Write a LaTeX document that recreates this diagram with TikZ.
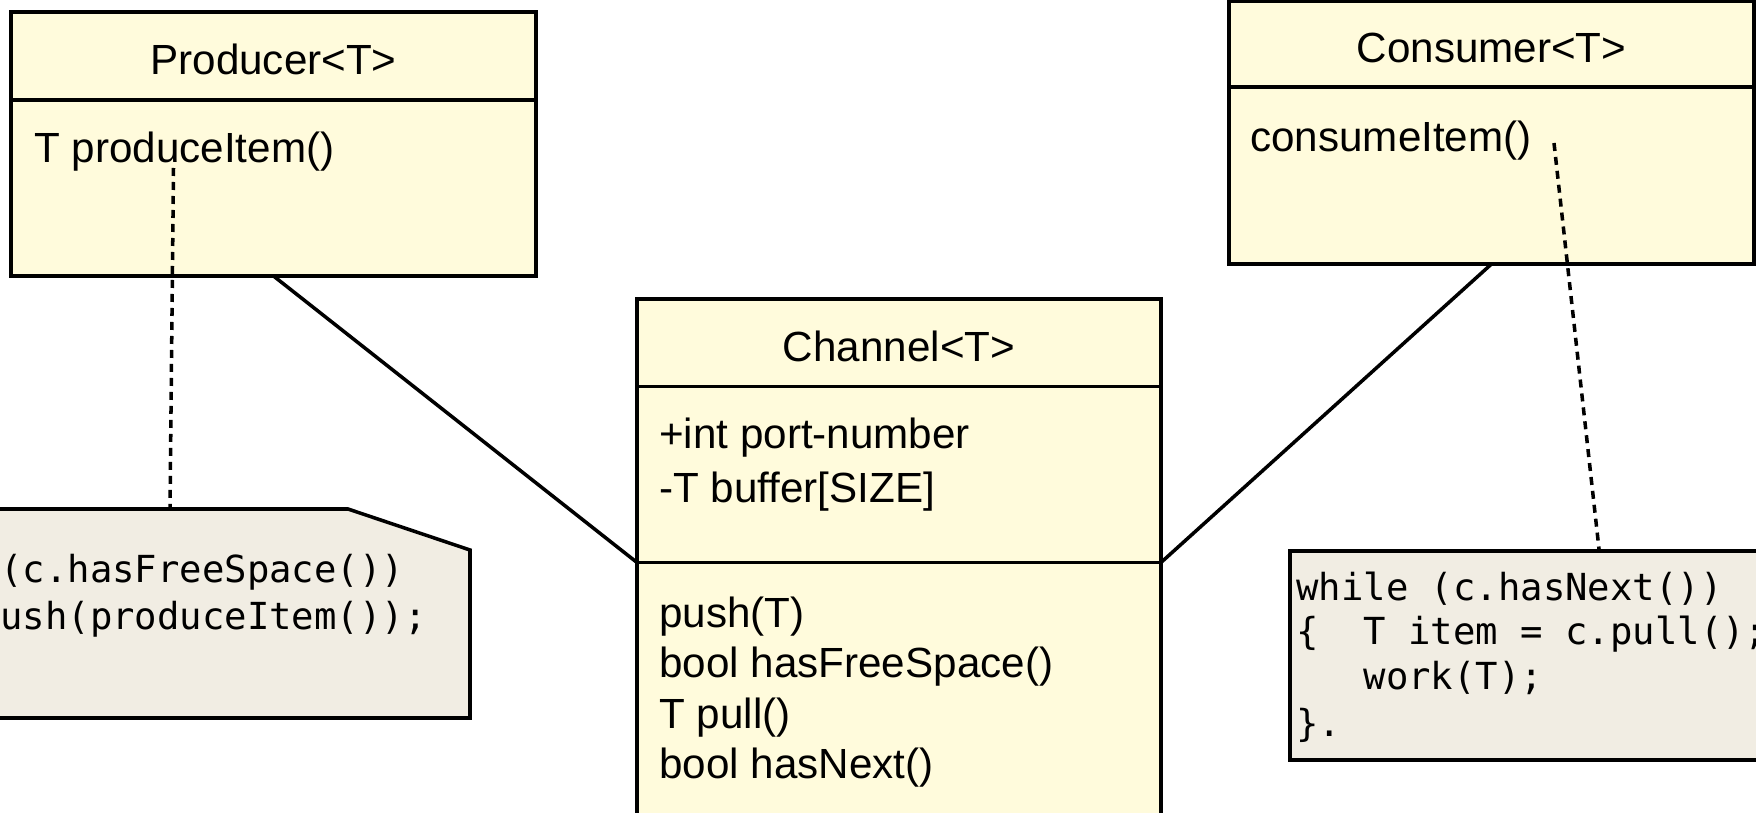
\documentclass[tikz,border=0pt]{standalone}
\usepackage{fontspec}
\setmainfont{Liberation Sans}
\newfontfamily\codefont{DejaVu Sans Mono}
\usetikzlibrary{positioning}
\definecolor{classyellow}{RGB}{255,251,220}
\definecolor{notegray}{RGB}{241,237,227}

\begin{document}
\begin{tikzpicture}%
            [classbox/.style = {draw, fill=classyellow, line width=2pt, inner sep=0pt, outer sep=0pt},
             classhead/.style = {classbox, text height=0.76cm, text depth=0pt, font=\fontsize{24}{29}\selectfont},
             member/.style = {anchor=base west, inner sep=0pt, font=\fontsize{24}{29}\selectfont},
             codeline/.style = {anchor=base west, inner sep=0pt, font=\codefont\fontsize{21.2}{25}\selectfont},
             codenote/.style = {draw, fill=notegray, line width=2pt},
             assoc/.style = {line width=2pt},
             noteline/.style = {line width=2pt, dash pattern=on 0.16cm off 0.12cm}]
            \clip (0,0) rectangle (35.12,-16.26);

            % classes
            \node [classhead, anchor=north west, minimum width=10.5cm, minimum height=1.76cm] (prodhead) at (0.22,-0.24) {Producer<T>};
            \node [classbox, below=0pt of prodhead, minimum width=10.5cm, minimum height=3.52cm] (prodbody) {};
            \node [member] (produce) at (0.68,-3.26) {T produceItem()};

            \node [classhead, anchor=north west, minimum width=10.48cm, minimum height=1.75cm] (chanhead) at (12.74,-5.98) {Channel<T>};
            \node [classbox, below=0pt of chanhead, minimum width=10.48cm, minimum height=3.52cm] (chanattr) {};
            \node [classbox, below=0pt of chanattr, minimum width=10.48cm, minimum height=6cm] (chanops) {};
            \node [member] (port)   at (13.18,-8.98)  {+int port-number};
            \node [member] (buffer) at (13.18,-10.06) {-T buffer[SIZE]};
            \node [member] (push)   at (13.18,-12.54) {push(T)};
            \node [member] (free)   at (13.18,-13.55) {bool hasFreeSpace()};
            \node [member] (pull)   at (13.18,-14.56) {T pull()};
            \node [member] (next)   at (13.18,-15.57) {bool hasNext()};

            \node [classhead, anchor=north west, minimum width=10.5cm, minimum height=1.72cm] (conshead) at (24.58,-0.02) {Consumer<T>};
            \node [classbox, below=0pt of conshead, minimum width=10.5cm, minimum height=3.54cm] (consbody) {};
            \node [member] (consume) at (25.0,-3.04) {consumeItem()};

            % notes
            \draw [codenote] (-0.2,-10.18) -- (6.96,-10.18) -- (9.40,-11.0) -- (9.40,-14.36) -- (-0.2,-14.36) -- cycle;
            \node [codeline] (prodcode1) at (0.0,-11.64) {(c.hasFreeSpace())};
            \node [codeline] (prodcode2) at (0.0,-12.58) {ush(produceItem());};

            \node [codenote, anchor=north west, minimum width=10cm, minimum height=4.18cm] (consnote) at (25.76,-10.98) {};
            \node [codeline] (conscode1) at (25.92,-12.0)  {while (c.hasNext())};
            \node [codeline] (conscode2) at (25.92,-12.89) {\{~~T item = c.pull();};
            \node [codeline] (conscode3) at (25.92,-13.79) {~~~work(T);};
            \node [codeline] (conscode4) at (25.92,-14.72) {\}.};

            % links
            \draw [assoc] (prodbody.south) -- (chanattr.south west);
            \draw [assoc] (consbody.south) -- (chanattr.south east);

            \coordinate (prodtip) at (3.47,-3.36);
            \coordinate (prodnotetop) at (3.40,-10.18);
            \coordinate (constip) at (31.08,-2.86);
            \coordinate (consnotetop) at (31.98,-10.98);
            \draw [noteline] (prodtip) -- (prodnotetop);
            \draw [noteline] (constip) -- (consnotetop);
        \end{tikzpicture}
\end{document}
